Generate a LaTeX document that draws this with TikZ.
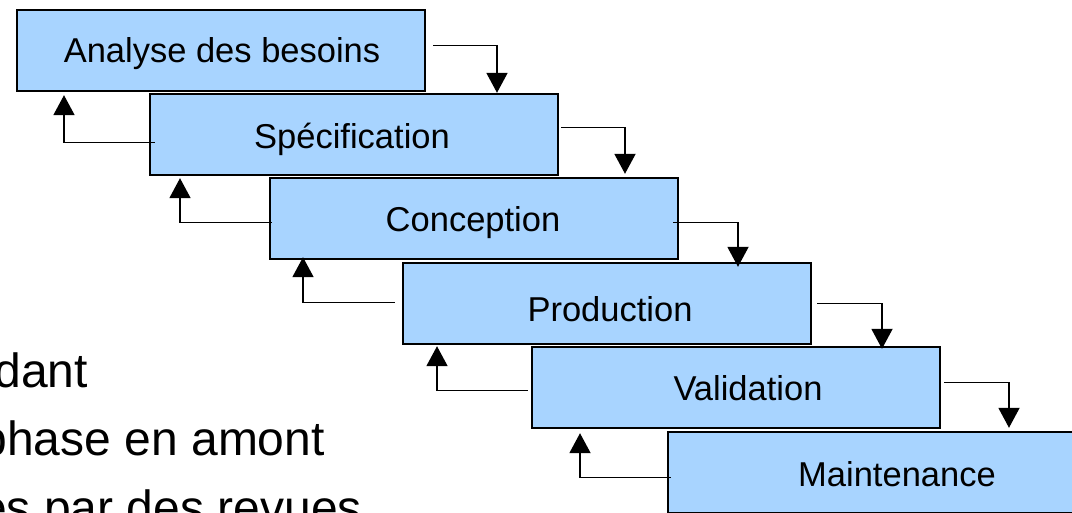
\documentclass[tikz,border=0pt]{standalone}
\usepackage{fontspec}
\setmainfont{Liberation Sans}
\usetikzlibrary{arrows.meta,calc}
\definecolor{phasefill}{RGB}{168,212,255}
\begin{document}
\begin{tikzpicture}[x=1pt,y=-1pt,
  phasebox/.style={draw=black,line width=2.4pt,fill=phasefill,
    minimum width=408pt,minimum height=81pt,inner sep=0pt},
  phasetxt/.style={font=\fontsize{34.5}{40}\selectfont,inner sep=0pt},
  bodytxt/.style={font=\fontsize{48}{56}\selectfont,inner sep=0pt,anchor=base east},
  conn/.style={draw=black,line width=1.9pt,-{Triangle[width=21pt,length=20pt]}}]
  \useasboundingbox (0,0) rectangle (1072,512);
  \clip (0,0) rectangle (1072,512);
  \fill[white] (0,0) rectangle (1072,512);

  % body text lines partly hidden at the left edge
  \node[bodytxt] (l1) at (88,387) {dant};
  \node[bodytxt] (l2) at (325,455) {phase en amont};
  \node[bodytxt] (l3) at (362,524) {es par des revues};

  % phase boxes, back to front
  \node[phasebox] (b6) at (872,472.5) {};
  \node[phasebox] (b5) at (736,387.5) {};
  \node[phasebox] (b4) at (607,303.5) {};
  \node[phasebox] (b3) at (474,218.5) {};
  \node[phasebox] (b2) at (354,134.5) {};
  \node[phasebox] (b1) at (221,50.5) {};

  \node[phasetxt] (t1) at ($(b1.center)+(1,3)$) {Analyse des besoins};
  \node[phasetxt] (t2) at ($(b2.center)+(-2,5)$) {Spécification};
  \node[phasetxt] (t3) at ($(b3.center)+(-1,4)$) {Conception};
  \node[phasetxt] (t4) at ($(b4.center)+(3,6)$) {Production};
  \node[phasetxt] (t5) at ($(b5.center)+(12,1)$) {Validation};
  \node[phasetxt] (t6) at ($(b6.center)+(25,2)$) {Maintenance};

  % forward arrows: right side of a phase down to the next one
  \draw[conn] ($(b1.east)+(7,-5)$) -| ($(b2.north)+(143,0)$);
  \draw[conn] ($(b2.east)+(2,-7)$) -| ($(b3.north)+(151,-3)$);
  \draw[conn] ($(b3.east)+(-6,4)$) -| ($(b4.north)+(131,5)$);
  \draw[conn] ($(b4.east)+(5,0)$) -| ($(b5.north)+(146,3)$);
  \draw[conn] ($(b5.east)+(3,-5)$) -| ($(b6.north)+(137,-3)$);

  % back arrows: left side of a phase up to the previous one
  \draw[conn] ($(b2.west)+(6,8)$) -| ($(b1.south)+(-157,3)$);
  \draw[conn] ($(b3.west)+(3,4)$) -| ($(b2.south)+(-174,2)$);
  \draw[conn] ($(b4.west)+(-7,-1)$) -| ($(b3.south)+(-171,-3)$);
  \draw[conn] ($(b5.west)+(-3,3)$) -| ($(b4.south)+(-170,1)$);
  \draw[conn] ($(b6.west)+(4,5)$) -| ($(b5.south)+(-156,4)$);
\end{tikzpicture}
\end{document}
